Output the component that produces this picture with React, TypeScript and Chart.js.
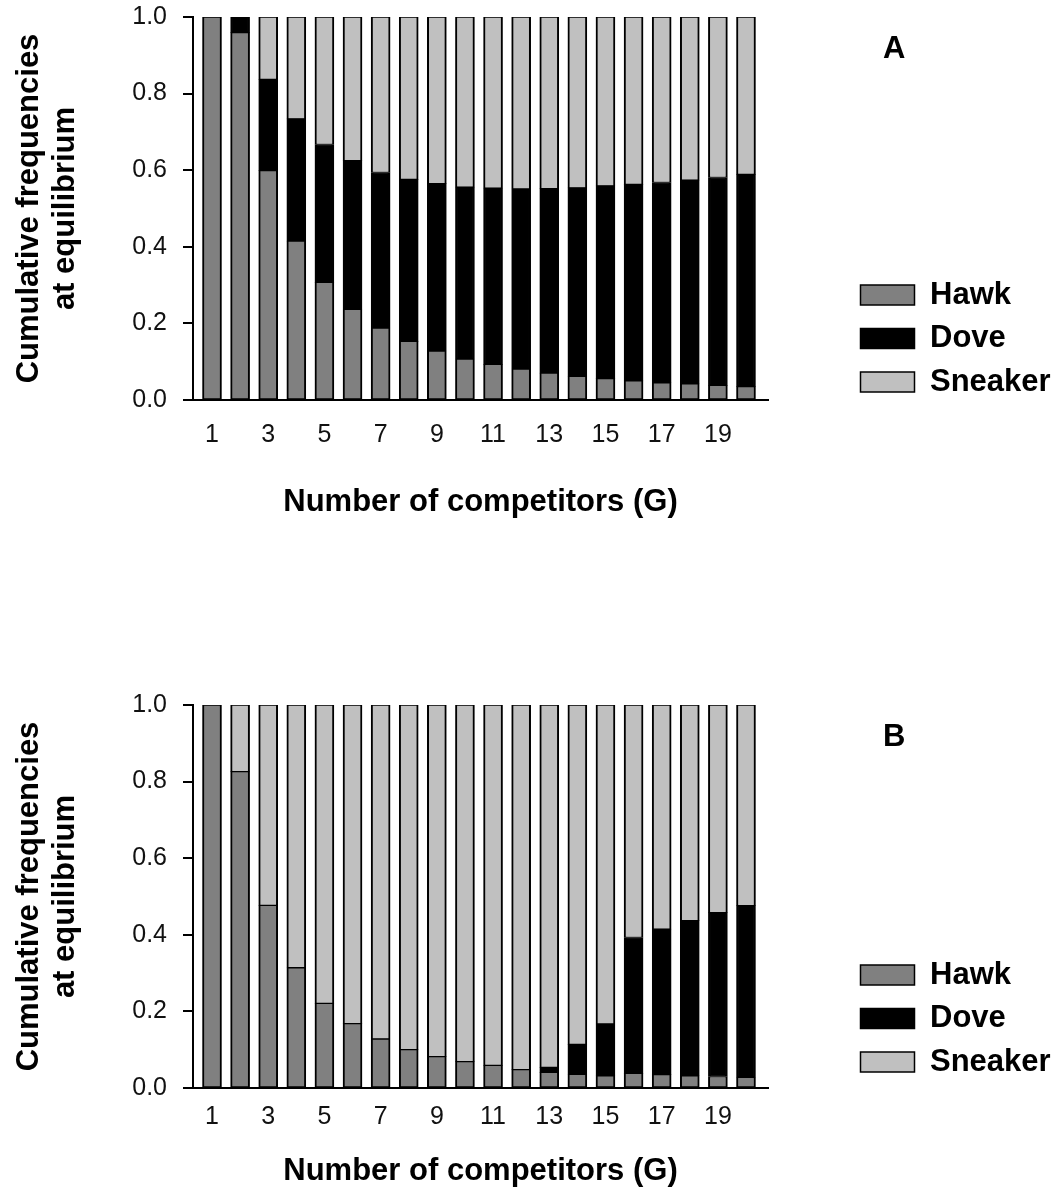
import React, { useEffect, useRef } from 'react';
import { Chart, registerables } from 'chart.js';

Chart.register(...registerables);

// ---- data ----
const competitors = [1, 2, 3, 4, 5, 6, 7, 8, 9, 10, 11, 12, 13, 14, 15, 16, 17, 18, 19, 20];
const xTickValues = [1, 3, 5, 7, 9, 11, 13, 15, 17, 19];
const yTickValues = [0, 0.2, 0.4, 0.6, 0.8, 1.0];
const seriesNames = ['Hawk', 'Dove', 'Sneaker'];

const hawkA = [1.0, 0.959, 0.599, 0.415, 0.307, 0.237, 0.188, 0.153, 0.128, 0.107, 0.093, 0.081, 0.070, 0.062, 0.056, 0.050, 0.045, 0.042, 0.038, 0.035];
const doveA = [0, 0.041, 0.238, 0.319, 0.360, 0.388, 0.406, 0.423, 0.437, 0.449, 0.460, 0.470, 0.482, 0.492, 0.503, 0.513, 0.523, 0.532, 0.543, 0.554];
const sneakerA = [0, 0, 0.163, 0.266, 0.333, 0.375, 0.406, 0.424, 0.435, 0.444, 0.447, 0.449, 0.448, 0.446, 0.441, 0.437, 0.432, 0.426, 0.419, 0.411];

const hawkB = [1.0, 0.826, 0.477, 0.314, 0.221, 0.168, 0.128, 0.100, 0.082, 0.069, 0.059, 0.048, 0.041, 0.036, 0.032, 0.038, 0.035, 0.032, 0.030, 0.028];
const doveB = [0, 0, 0, 0, 0, 0, 0, 0, 0, 0, 0, 0, 0.013, 0.078, 0.135, 0.355, 0.380, 0.405, 0.428, 0.448];
const sneakerB = [0, 0.174, 0.523, 0.686, 0.779, 0.832, 0.872, 0.900, 0.918, 0.931, 0.941, 0.952, 0.946, 0.886, 0.833, 0.607, 0.585, 0.563, 0.542, 0.524];

const xTitle = 'Number of competitors (G)';
const yTitle = ['Cumulative frequencies', 'at equilibrium'];

const FONT = "'Liberation Sans', Arial, Helvetica, sans-serif";
const colors = ['#808080', '#000000', '#c0c0c0'];

type PanelProps = {
  letter: string;
  hawk: number[];
  dove: number[];
  sneaker: number[];
  top: number;
  height: number;
  xAxisHeight: number;
  tickPad: number;
  titlePad: number;
  legendSpacer: number;
};

function Panel(p: PanelProps) {
  const ref = useRef<HTMLCanvasElement | null>(null);
  useEffect(() => {
    if (!ref.current) return;
    const series = [p.hawk, p.dove, p.sneaker];
    const chart = new Chart(ref.current, {
      type: 'bar',
      data: {
        labels: competitors,
        datasets: seriesNames.map((name, i) => ({
          label: name,
          data: series[i],
          backgroundColor: colors[i],
          borderColor: '#000',
          borderWidth: { left: 2, right: 2, top: 1, bottom: 1 },
          borderSkipped: false,
          barThickness: 19,
        })),
      },
      options: {
        responsive: false,
        animation: false,
        devicePixelRatio: 1,
        events: [],
        layout: { padding: { top: 17, left: 0, right: 0, bottom: 0 } },
        scales: {
          x: {
            type: 'linear',
            min: 0.324,
            max: 20.783,
            offset: false,
            stacked: true,
            afterBuildTicks: (axis: any) => {
              axis.ticks = xTickValues.map((v) => ({ value: v }));
            },
            afterFit: (s: any) => {
              s.height = p.xAxisHeight;
            },
            grid: { display: false, drawTicks: false, offset: false },
            border: { display: true, color: '#000', width: 2 },
            ticks: {
              padding: p.tickPad,
              autoSkip: false,
              maxRotation: 0,
              color: '#111',
              font: { family: FONT, size: 25 },
              callback: (v: any) => String(v),
            },
            title: {
              display: true,
              text: xTitle,
              color: '#000',
              font: { family: FONT, size: 31, weight: 'bold', lineHeight: 1.2 },
              padding: { top: 0, bottom: p.titlePad },
            },
          },
          y: {
            type: 'linear',
            position: 'left',
            stacked: true,
            min: 0,
            max: 1,
            afterBuildTicks: (axis: any) => {
              axis.ticks = yTickValues.map((v) => ({ value: v }));
            },
            afterFit: (s: any) => {
              s.width = 193;
              s.paddingTop = 10;
              s.paddingBottom = 10;
            },
            grid: {
              display: true,
              drawOnChartArea: false,
              drawTicks: true,
              tickLength: 10,
              color: '#000',
              lineWidth: 2,
            },
            border: { display: true, color: '#000', width: 2 },
            ticks: {
              padding: 16,
              color: '#111',
              font: { family: FONT, size: 25 },
              callback: (v: any) => Number(v).toFixed(1),
            },
            title: {
              display: true,
              text: yTitle,
              color: '#000',
              font: { family: FONT, size: 31, weight: 'bold', lineHeight: 1.15 },
              padding: { top: 12, bottom: 0 },
            },
          },
          spacer: {
            type: 'linear',
            position: 'right',
            min: 0,
            max: 1,
            display: true,
            grid: { display: false, drawTicks: false },
            border: { display: false },
            ticks: { display: false },
            afterFit: (s: any) => {
              s.width = 80;
            },
          },
        },
        plugins: {
          tooltip: { enabled: false },
          legend: {
            display: true,
            position: 'right',
            align: 'start',
            fullSize: true,
            maxWidth: 207,
            title: {
              display: true,
              text: ' ',
              color: 'rgba(0,0,0,0)',
              font: { family: FONT, size: 10, lineHeight: 1 },
              padding: { top: p.legendSpacer, bottom: 0 },
            },
            labels: {
              boxWidth: 54,
              boxHeight: 20,
              padding: 12.5,
              color: '#000',
              font: { family: FONT, size: 31, weight: 'bold' },
            },
          },
        },
      } as any,
    });
    return () => chart.destroy();
  }, []);

  return (
    <div style={{ position: 'absolute', left: 0, top: p.top, width: 1055, height: p.height }}>
      <canvas ref={ref} width={1055} height={p.height} style={{ width: 1055, height: p.height, display: 'block' }} />
      <div
        style={{
          position: 'absolute',
          left: 883,
          top: 32,
          fontFamily: FONT,
          fontWeight: 'bold',
          fontSize: 31,
          lineHeight: '31px',
          color: '#000',
        }}
      >
        {p.letter}
      </div>
    </div>
  );
}

export default function App() {
  return (
    <div
      style={{
        position: 'absolute',
        left: 0,
        top: 0,
        width: 1055,
        height: 1194,
        overflow: 'hidden',
        background: '#fff',
      }}
    >
      <Panel letter="A" hawk={hawkA} dove={doveA} sneaker={sneakerA} top={0} height={530} xAxisHeight={130} tickPad={20} titlePad={9} legendSpacer={240} />
      <Panel letter="B" hawk={hawkB} dove={doveB} sneaker={sneakerB} top={688} height={506} xAxisHeight={106} tickPad={14} titlePad={4} legendSpacer={232} />
    </div>
  );
}
